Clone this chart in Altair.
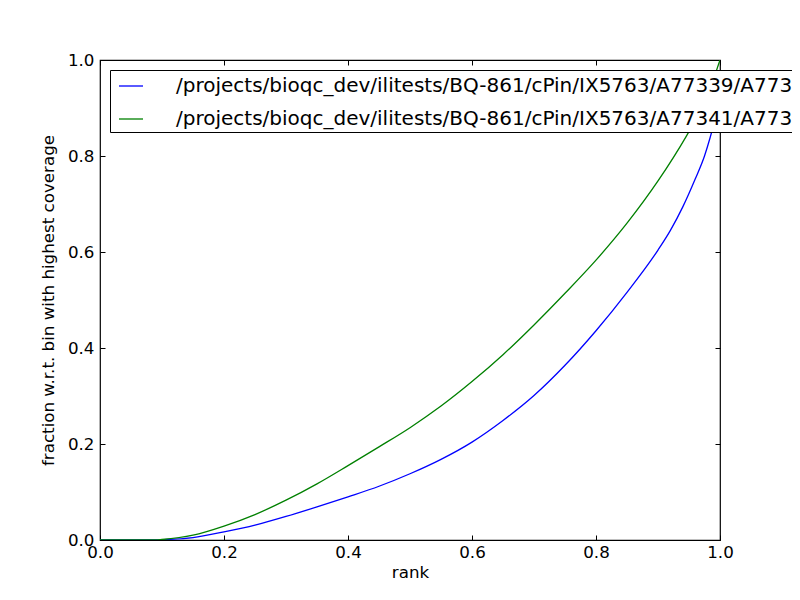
import altair as alt
import pandas as pd

# ---- data ----
series_names = [
    "/projects/bioqc_dev/ilitests/BQ-861/cPin/IX5763/A77339/A7733",
    "/projects/bioqc_dev/ilitests/BQ-861/cPin/IX5763/A77341/A7734",
]
series_colors = ["#0000ff", "#008000"]

rank_a = [0.0, 0.05, 0.09, 0.1, 0.15, 0.2, 0.25, 0.3, 0.35, 0.4, 0.45, 0.5, 0.55,
          0.6, 0.65, 0.7, 0.75, 0.8, 0.85, 0.9, 0.92, 0.94, 0.96, 0.975, 0.984, 1.0]
frac_a = [0.0, 0.0, 0.0, 0.0005, 0.005, 0.017, 0.031, 0.049, 0.069, 0.090, 0.112, 0.138, 0.168,
          0.204, 0.249, 0.301, 0.364, 0.436, 0.516, 0.604, 0.645, 0.694, 0.752, 0.800, 0.838, 0.92]

rank_b = [0.0, 0.05, 0.09, 0.1, 0.15, 0.2, 0.25, 0.3, 0.35, 0.4, 0.45, 0.5, 0.55,
          0.6, 0.65, 0.7, 0.75, 0.8, 0.85, 0.9, 0.946, 0.975, 1.0]
frac_b = [0.0, 0.0, 0.0, 0.001, 0.010, 0.029, 0.053, 0.083, 0.117, 0.155, 0.194, 0.234, 0.279,
          0.330, 0.386, 0.448, 0.514, 0.583, 0.660, 0.748, 0.842, 0.91, 1.0]

tick_values = [0.0, 0.2, 0.4, 0.6, 0.8, 1.0]

df = pd.concat([
    pd.DataFrame({"rank": rank_a, "frac": frac_a, "series": series_names[0], "order": range(len(rank_a))}),
    pd.DataFrame({"rank": rank_b, "frac": frac_b, "series": series_names[1], "order": range(len(rank_b))}),
], ignore_index=True)

W, H = 620, 480
FONT = "DejaVu Sans"
xscale = alt.Scale(domain=[0, 1], nice=False, zero=False)
yscale = alt.Scale(domain=[0, 1], nice=False, zero=False)

base = alt.Chart(df)

lines = base.mark_line(strokeWidth=1.3, clip=True, interpolate="monotone").encode(
    x=alt.X("rank:Q", scale=xscale,
            axis=alt.Axis(orient="bottom", values=tick_values, format=".1f", title="rank",
                          ticks=False, domain=False, grid=False, labelPadding=4,
                          labelFlush=False, labelOverlap=False,
                          labelFontSize=16.7, titleFontSize=16.7, titlePadding=4,
                          labelFont=FONT, titleFont=FONT, titleFontWeight="normal",
                          labelColor="black", titleColor="black")),
    y=alt.Y("frac:Q", scale=yscale,
            axis=alt.Axis(orient="left", values=tick_values, format=".1f",
                          title="fraction w.r.t. bin with highest coverage",
                          ticks=False, domain=False, grid=False, labelPadding=6,
                          labelFlush=False, labelOverlap=False,
                          labelFontSize=16.7, titleFontSize=16.7, titlePadding=10,
                          labelFont=FONT, titleFont=FONT, titleFontWeight="normal",
                          labelColor="black", titleColor="black")),
    color=alt.Color("series:N",
                    scale=alt.Scale(domain=series_names, range=series_colors),
                    legend=alt.Legend(orient="none", legendX=10, legendY=10, title=None,
                                      strokeColor="black", fillColor="white", padding=3,
                                      symbolOffset=5,
                                      labelFontSize=20, labelFont=FONT, labelColor="black",
                                      symbolType="stroke", symbolSize=576, symbolStrokeWidth=1.3,
                                      labelOffset=32, rowPadding=10, labelLimit=3000,
                                      cornerRadius=0, direction="vertical")),
    order="order:Q",
)

tick_kw = dict(values=tick_values, labels=False, title=None, domain=False, grid=False,
               ticks=True, tickSize=5, tickColor="black", tickWidth=1)

# inward ticks on bottom and left edges
ticks1 = base.mark_point(opacity=0).encode(
    x=alt.X("rank:Q", scale=xscale, axis=alt.Axis(orient="top", offset=-H, **tick_kw)),
    y=alt.Y("frac:Q", scale=yscale, axis=alt.Axis(orient="right", offset=-W, **tick_kw)),
)
# inward ticks on top and right edges
ticks2 = base.mark_point(opacity=0).encode(
    x=alt.X("rank:Q", scale=xscale, axis=alt.Axis(orient="bottom", offset=-H, **tick_kw)),
    y=alt.Y("frac:Q", scale=yscale, axis=alt.Axis(orient="left", offset=-W, **tick_kw)),
)

chart = alt.layer(lines, ticks1, ticks2).resolve_axis(
    x="independent", y="independent"
).properties(
    width=W, height=H,
    autosize=alt.AutoSizeParams(type="none"),
    padding={"left": 92, "top": 52, "right": 72, "bottom": 52},
    background="white",
).configure_view(
    stroke="black", strokeWidth=1.2
)

chart.save("out.html", embed_options={"renderer": "svg", "actions": False})
